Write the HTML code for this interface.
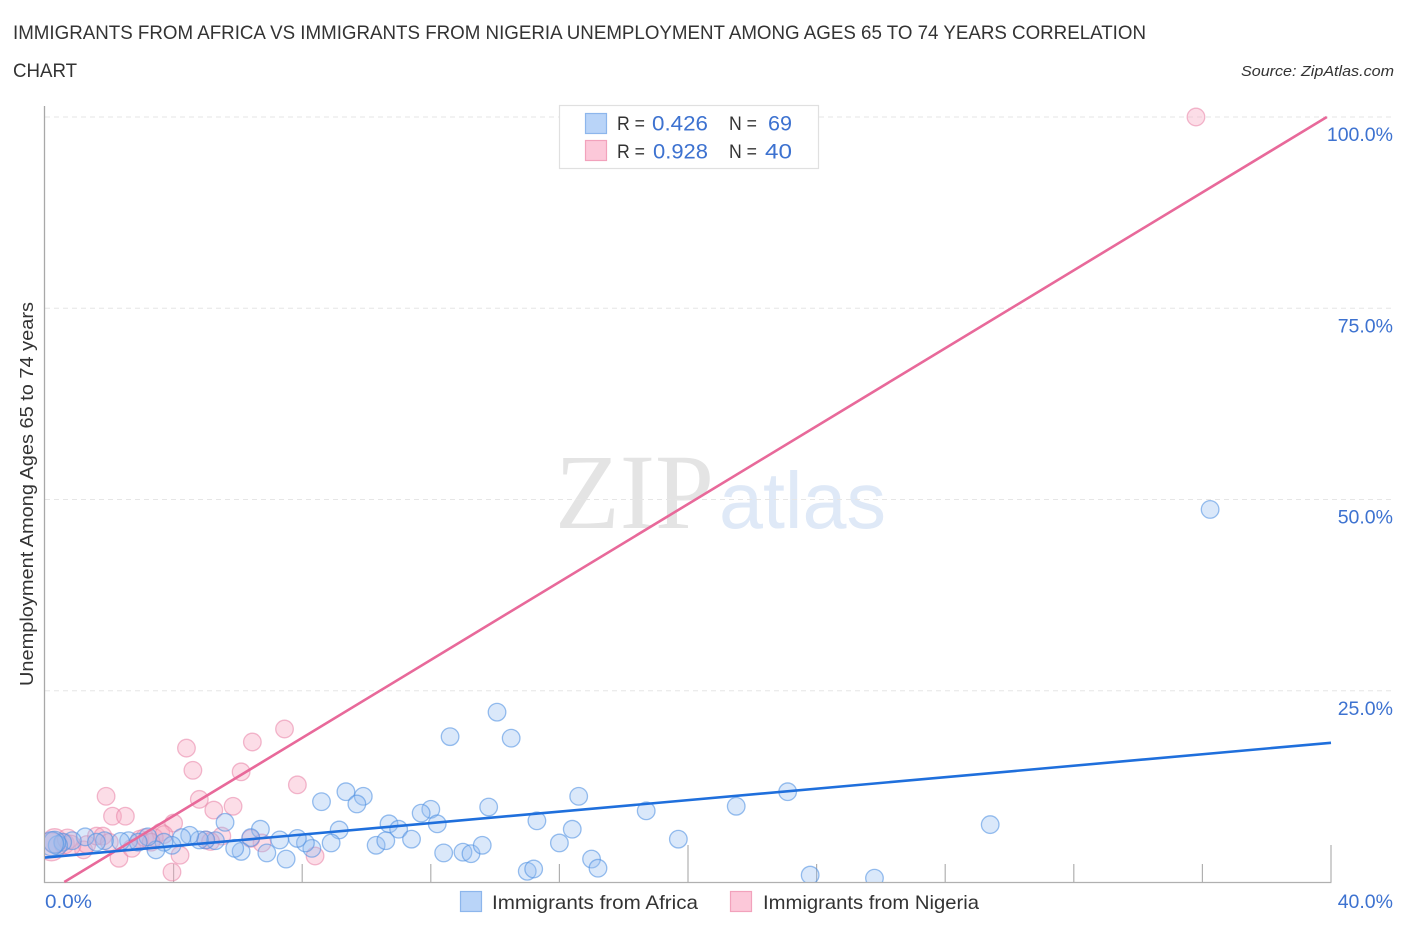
<!DOCTYPE html>
<html lang="en">
<head>
<meta charset="utf-8">
<title>Immigrants from Africa vs Immigrants from Nigeria Unemployment Correlation Chart</title>
<style>
html,body{margin:0;padding:0;background:#fff;width:1406px;height:930px;overflow:hidden}
svg{display:block;font-family:"Liberation Sans",sans-serif}
</style>
</head>
<body>
<svg id="chart" width="1406" height="930" viewBox="0 0 1406 930" xmlns="http://www.w3.org/2000/svg">
  <defs>
    <clipPath id="plot-clip"><rect x="45" y="100" width="1300" height="782"/></clipPath>
  </defs>
  <rect width="1406" height="930" fill="#fff"/>
  <text x="13" y="39" font-size="19.5" fill="#333" textLength="1133" lengthAdjust="spacingAndGlyphs">IMMIGRANTS FROM AFRICA VS IMMIGRANTS FROM NIGERIA UNEMPLOYMENT AMONG AGES 65 TO 74 YEARS CORRELATION</text>
  <text x="13" y="77" font-size="19.5" fill="#333" textLength="64" lengthAdjust="spacingAndGlyphs">CHART</text>
  <text x="1241" y="76" font-size="15" font-style="italic" fill="#333" textLength="153" lengthAdjust="spacingAndGlyphs">Source: ZipAtlas.com</text>

  <g>
    <text x="555" y="528" font-family="'Liberation Serif',serif" font-size="107" fill="#e4e4e4" textLength="159" lengthAdjust="spacingAndGlyphs">ZIP</text>
    <text x="719" y="528" font-size="80" fill="#dfe9f7" textLength="167" lengthAdjust="spacingAndGlyphs">atlas</text>
  </g>

  <g id="grid"></g>
  <g id="axes"></g>
  <g id="pink-points" clip-path="url(#plot-clip)"></g>
  <g id="blue-points" clip-path="url(#plot-clip)"></g>
  <g id="trends"></g>
  <g id="tick-labels"></g>

  <text transform="translate(33,494) rotate(-90)" text-anchor="middle" font-size="18" fill="#333" textLength="384" lengthAdjust="spacingAndGlyphs">Unemployment Among Ages 65 to 74 years</text>

  <g>
    <rect x="559.5" y="105.5" width="259" height="63" fill="#fff" stroke="#e0e0e0" stroke-width="1.2"/>
    <rect x="585.5" y="113.5" width="21" height="20" fill="#b9d4f8" stroke="#8db6ec" stroke-width="1.2"/>
    <rect x="585.5" y="140.5" width="21" height="20" fill="#fcc8d9" stroke="#f2a2bc" stroke-width="1.2"/>
    <g font-size="19" fill="#333">
      <text x="617" y="130" textLength="28" lengthAdjust="spacingAndGlyphs">R =</text>
      <text x="617" y="158" textLength="28" lengthAdjust="spacingAndGlyphs">R =</text>
      <text x="729" y="130" textLength="28" lengthAdjust="spacingAndGlyphs">N =</text>
      <text x="729" y="158" textLength="28" lengthAdjust="spacingAndGlyphs">N =</text>
    </g>
    <g font-size="21" fill="#3d72d0">
      <text x="652" y="130.5" textLength="56" lengthAdjust="spacingAndGlyphs">0.426</text>
      <text x="653" y="158.5" textLength="55" lengthAdjust="spacingAndGlyphs">0.928</text>
      <text x="768" y="130.5" textLength="24" lengthAdjust="spacingAndGlyphs">69</text>
      <text x="765" y="158.5" textLength="27" lengthAdjust="spacingAndGlyphs">40</text>
    </g>
  </g>

  <g>
    <g>
      <rect x="460.5" y="891.5" width="21" height="20" fill="#b9d4f8" stroke="#8db6ec" stroke-width="1.2"/>
      <text x="492" y="909" font-size="19.5" fill="#333" textLength="206" lengthAdjust="spacingAndGlyphs">Immigrants from Africa</text>
    </g>
    <g>
      <rect x="730.5" y="891.5" width="21" height="20" fill="#fcc8d9" stroke="#f2a2bc" stroke-width="1.2"/>
      <text x="763" y="909" font-size="19.5" fill="#333" textLength="216" lengthAdjust="spacingAndGlyphs">Immigrants from Nigeria</text>
    </g>
  </g>
</svg>
<script>
const yTickValues = [25, 50, 75, 100];
const yTickLabels = ["25.0%", "50.0%", "75.0%", "100.0%"];
const xTickValues = [0, 4, 8, 12, 16, 20, 24, 28, 32, 36, 40];
const xMajorTicks = [20, 40];
const xEndLabels = ["0.0%", "40.0%"];

const africaX = [36.24,14.06,12.6,14.5,9.36,8.6,9.9,9.7,16.6,23.1,21.5,18.7,13.8,12,11.7,10.7,11,12.2,15.3,16.4,19.7,29.4,9.15,6.7,5.6,10.3,10.6,11.4,12.4,13,13.25,13.6,16,17,17.2,15,15.2,23.8,25.8,8.9,8.3,8.1,7.85,7.5,7.3,6.9,6.4,6.1,5.9,5.3,5,4.8,4.5,4.25,3.95,3.7,3.45,3.2,2.6,2.35,1.85,1.25,0.85,0.55,0.4,0.3,0.2,2.9,1.6];
const africaY = [48.7,22.2,19,18.8,11.8,10.5,11.2,10.2,11.2,11.8,9.9,9.3,9.8,9.5,9,7.6,6.9,7.6,8,6.9,5.6,7.5,6.8,6.9,7.8,4.8,5.4,5.6,3.8,3.9,3.7,4.8,5.1,3,1.8,1.4,1.7,0.9,0.5,5.1,4.4,5.1,5.7,3,5.5,3.8,5.8,4,4.4,5.4,5.5,5.5,6.1,5.8,4.8,5.2,4.2,5.9,5.4,5.3,5.4,5.9,5.4,5.2,4.8,5.2,5,5.2,5.2];
const africaR = [8.8,8.8,8.8,8.8,8.8,8.8,8.8,8.8,8.8,8.8,8.8,8.8,8.8,8.8,8.8,8.8,8.8,8.8,8.8,8.8,8.8,8.8,8.8,8.8,8.8,8.8,8.8,8.8,8.8,8.8,8.8,8.8,8.8,8.8,8.8,8.8,8.8,8.8,8.8,8.8,8.8,8.8,8.8,8.8,8.8,8.8,8.8,8.8,8.8,8.8,8.8,8.8,8.8,8.8,8.8,8.8,8.8,8.8,8.8,8.8,8.8,8.8,8.8,8.8,9.5,11,12,8.8,8.8];

const nigeriaX = [35.8,7.45,6.45,4.4,4.6,6.1,7.85,1.9,4.8,5.85,2.1,2.5,5.25,4,3.6,5.5,6.75,6.4,8.4,4.2,3.95,2.3,2.7,1.2,0.2,0.3,0.6,0.7,1.3,1.6,1.8,2,2.95,3.1,3.4,3.7,5,5.15,3.3,0.8];
const nigeriaY = [100,20,18.3,17.5,14.6,14.4,12.7,11.2,10.8,9.9,8.6,8.6,9.4,7.7,6.5,6,5.1,5.7,3.4,3.5,1.3,3.1,4.4,4.2,4.6,5.4,5,5.6,4.9,6,6,5.2,5.6,5.8,5.8,6.2,5.5,5.3,5.2,4.8];
const nigeriaR = [8.8,8.8,8.8,8.8,8.8,8.8,8.8,8.8,8.8,8.8,8.8,8.8,8.8,8.8,8.8,8.8,8.8,8.8,8.8,8.8,8.8,8.8,8.8,8.8,14,12,10,10,8.8,8.8,8.8,8.8,8.8,8.8,8.8,8.8,8.8,8.8,8.8,10];

const africaTrendX = [0, 40];
const africaTrendY = [3.2, 18.2];
const nigeriaTrendX = [0.6, 39.87];
const nigeriaTrendY = [0, 100];

const NS = "http://www.w3.org/2000/svg";
const xScale = function (v) { return 45 + v * 32.15; };
const yScale = function (v) { return 882 - v * 7.65; };

function make(parent, tag, attrs) {
  const el = document.createElementNS(NS, tag);
  Object.keys(attrs).forEach(function (k) { el.setAttribute(k, attrs[k]); });
  parent.appendChild(el);
  return el;
}

const gridG = document.getElementById("grid");
const axesG = document.getElementById("axes");
const labelG = document.getElementById("tick-labels");

yTickValues.forEach(function (v, i) {
  const g = make(gridG, "line", { x1: 45, x2: 1394, y1: yScale(v), y2: yScale(v), stroke: "#e6e6e6", "stroke-width": 1, "stroke-dasharray": "5 4" });
  
  
  const t = make(labelG, "text", { x: 1393, y: yScale(v) + 24, "text-anchor": "end", "font-size": 19.5, fill: "#3d72d0" });
  
  
  t.textContent = yTickLabels[i];
});

const yAxis = make(axesG, "line", { x1: 44.5, x2: 44.5, y1: 106, y2: 883, stroke: "#a8a8a8", "stroke-width": 1.3 });


const xAxis = make(axesG, "line", { x1: 44, x2: 1331.5, y1: 882.5, y2: 882.5, stroke: "#b0b0b0", "stroke-width": 1.3 });



xTickValues.slice(1).forEach(function (v) {
  const major = xMajorTicks.indexOf(v) >= 0;
  const tick = make(axesG, "line", { x1: xScale(v), x2: xScale(v), y1: major ? 845 : 864, y2: 882, stroke: "#b0b0b0", "stroke-width": 1.2 });
  
  
});

const xStart = make(labelG, "text", { x: 45, y: 908, "font-size": 19.5, fill: "#3d72d0", textLength: 47, lengthAdjust: "spacingAndGlyphs" });


xStart.textContent = xEndLabels[0];
const xEnd = make(labelG, "text", { x: 1393, y: 908, "text-anchor": "end", "font-size": 19.5, fill: "#3d72d0" });


xEnd.textContent = xEndLabels[1];

const pinkG = document.getElementById("pink-points");
nigeriaX.forEach(function (v, i) {
  const c = make(pinkG, "circle", { cx: xScale(v), cy: yScale(nigeriaY[i]), r: nigeriaR[i], fill: "rgba(248,170,195,0.4)", stroke: "rgba(232,130,165,0.55)", "stroke-width": 1.3 });
  
  
});

const blueG = document.getElementById("blue-points");
africaX.forEach(function (v, i) {
  const c = make(blueG, "circle", { cx: xScale(v), cy: yScale(africaY[i]), r: africaR[i], fill: "rgba(150,190,240,0.35)", stroke: "rgba(80,145,225,0.58)", "stroke-width": 1.3 });
  
  
});

const trendG = document.getElementById("trends");
const pinkLine = make(trendG, "line", { x1: xScale(nigeriaTrendX[0]), y1: yScale(nigeriaTrendY[0]), x2: xScale(nigeriaTrendX[1]), y2: yScale(nigeriaTrendY[1]), stroke: "#e8699a", "stroke-width": 2.6 });


const blueLine = make(trendG, "line", { x1: xScale(africaTrendX[0]), y1: yScale(africaTrendY[0]), x2: xScale(africaTrendX[1]), y2: yScale(africaTrendY[1]), stroke: "#1f6fdc", "stroke-width": 2.6 });


</script>
</body>
</html>
